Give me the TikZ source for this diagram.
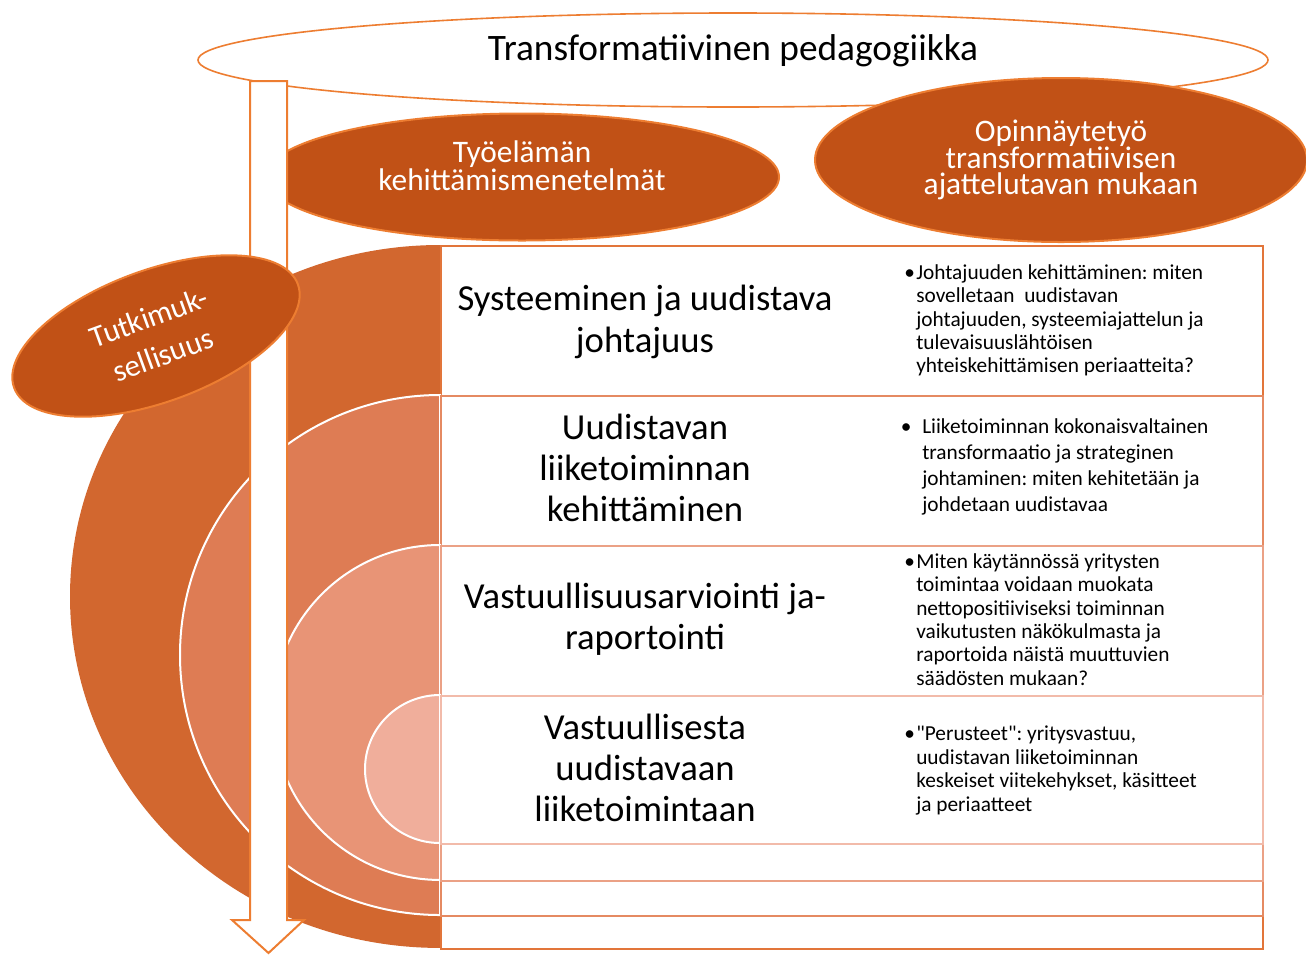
\documentclass[tikz,border=0pt]{standalone}
\usepackage{fontspec}
\setmainfont{Carlito}
\usetikzlibrary{shapes.geometric,positioning}

\definecolor{darkorange}{HTML}{C15116}
\definecolor{lineorange}{HTML}{ED7D31}
\definecolor{ringA}{HTML}{D2672F}
\definecolor{ringB}{HTML}{DE7C54}
\definecolor{ringC}{HTML}{E89476}
\definecolor{ringD}{HTML}{F0AE9B}
\definecolor{edgeA}{HTML}{E2753A}
\definecolor{edgeB}{HTML}{E58A62}
\definecolor{edgeC}{HTML}{EBA186}
\definecolor{edgeD}{HTML}{F2BBAA}

\newcommand{\tightlines}{\lineskiplimit=-30pt\relax}
\newcommand{\straightquote}{\XeTeXglyph\XeTeXcharglyph"22\relax}

\begin{document}
\frenchspacing
\begin{tikzpicture}[x=0.75pt, y=-0.75pt,
    bubble/.style={ellipse, draw=lineorange, line width=1.5pt, fill=darkorange, text=white, align=center, inner sep=0pt},
    ringbox/.style={rectangle, fill=white, line width=1.8pt, anchor=north west, minimum width=616.5pt, inner sep=0pt},
    rowtitle/.style={align=center, inner sep=0pt, font=\fontsize{27.5}{31}\selectfont},
    rownote/.style={align=left, anchor=north west, inner sep=0pt, font=\fontsize{16}{17.6}\selectfont}]
    \useasboundingbox (0,0) rectangle (1306,954);

    % top layer of ellipses
    \node[ellipse, draw=lineorange, line width=1.2pt, fill=white, minimum width=802.5pt, minimum height=70.5pt, inner sep=0pt] (pedagogy) at (733,60) {};
    \node[inner sep=0pt, font=\fontsize{28}{30}\selectfont] (pedagogytext) at (733,51) {Transformatiivinen pedagogiikka};

    \node[bubble, minimum width=369pt, minimum height=123pt, font=\fontsize{23.5}{20}\selectfont\tightlines] (thesis) at (1061,160) {Opinnäytetyö\\transformatiivisen\\ajattelutavan mukaan};
    \node[bubble, minimum width=385.5pt, minimum height=95.25pt] (methods) at (522,177) {};
    \node[text=white, align=center, inner sep=0pt, font=\fontsize{23.5}{21}\selectfont\tightlines] (methodstext) at (522,166) {Työelämän\\kehittämismenetelmät};

    % nested rings
    \fill[ringA] (440,245) arc[start angle=90, end angle=270, x radius=277.5pt, y radius=263.6pt] -- cycle;
    \node[ringbox, draw=edgeA, minimum height=527.25pt] (ring1) at (440,245) {};
    \filldraw[fill=ringB, draw=white, line width=1.5pt] (440,395) arc[start angle=90, end angle=270, x radius=195pt, y radius=195pt] -- cycle;
    \node[ringbox, draw=edgeB, minimum height=390pt] (ring2) at (440,395) {};
    \filldraw[fill=ringC, draw=white, line width=1.5pt] (440,545) arc[start angle=90, end angle=270, x radius=125.25pt, y radius=125.6pt] -- cycle;
    \node[ringbox, draw=edgeC, minimum height=251.25pt] (ring3) at (440,545) {};
    \filldraw[fill=ringD, draw=white, line width=1.5pt] (440,695) arc[start angle=90, end angle=270, x radius=56.25pt, y radius=55.5pt] -- cycle;
    \node[ringbox, draw=edgeD, minimum height=111pt] (ring4) at (440,695) {};

    % row texts
    \node[rowtitle] (leadtitle) at (645,322) {Systeeminen ja uudistava\\johtajuus};
    \node[rowtitle] (bizztitle) at (645,468) {Uudistavan\\liiketoiminnan\\kehittäminen};
    \node[rowtitle] (reporttitle) at (645,619) {Vastuullisuusarviointi ja-\\raportointi};
    \node[rowtitle] (basetitle) at (645,768) {Vastuullisesta\\uudistavaan\\liiketoimintaan};

    \node[rownote] (leadnote) at (916,264) {\llap{\textbullet\hspace{1pt}}Johtajuuden kehittäminen: miten\\sovelletaan\ \ uudistavan\\johtajuuden, systeemiajattelun ja\\tulevaisuuslähtöisen\\yhteiskehittämisen periaatteita?};
    \node[rownote, font=\fontsize{16}{19.5}\selectfont] (bizznote) at (922,418) {\llap{\textbullet\hspace{8pt}}Liiketoiminnan kokonaisvaltainen\\transformaatio ja strateginen\\johtaminen: miten kehitetään ja\\johdetaan uudistavaa};
    \node[rownote] (reportnote) at (916,553) {\llap{\textbullet\hspace{1pt}}Miten käytännössä yritysten\\toimintaa voidaan muokata\\nettopositiiviseksi toiminnan\\vaikutusten näkökulmasta ja\\raportoida näistä muuttuvien\\säädösten mukaan?};
    \node[rownote] (basenote) at (916,726) {\llap{\textbullet\hspace{1pt}}\straightquote Perusteet\straightquote: yritysvastuu,\\uudistavan liiketoiminnan\\keskeiset viitekehykset, käsitteet\\ja periaatteet};

    % down arrow
    \draw[lineorange, fill=white, line width=1.5pt] (250,81) -- (287,81) -- (287,920) -- (304,920) -- (268.5,953) -- (232,920) -- (250,920) -- cycle;

    \node[bubble, rotate=20, minimum width=226.5pt, minimum height=99pt, font=\fontsize{23}{30}\selectfont] (research) at (156,336) {Tutkimuk-\\sellisuus};
\end{tikzpicture}
\end{document}
